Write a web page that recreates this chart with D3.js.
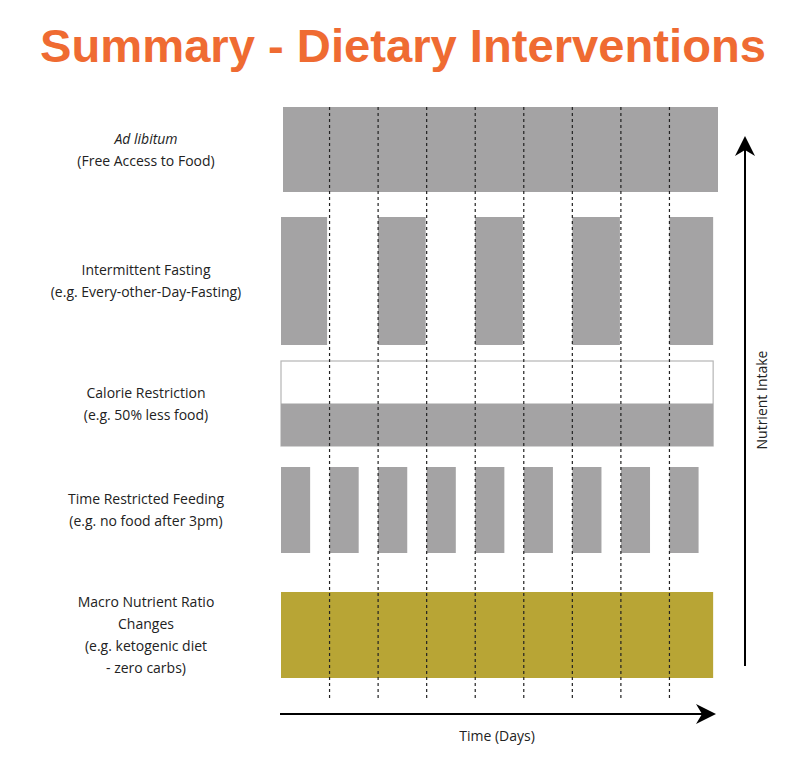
<!DOCTYPE html>
<html>
<head>
<meta charset="utf-8">
<script src="https://cdn.jsdelivr.net/npm/d3@7"></script>
<style>
  body { margin: 0; background: #fff; }
  text { font-family: "Open Sans", "DejaVu Sans", sans-serif; }
</style>
</head>
<body>
<svg id="chart" width="800" height="764"></svg>
<script>
// Row labels (two or more lines each)
var rowLabels = [
  ["Ad libitum", "(Free Access to Food)"],
  ["Intermittent Fasting", "(e.g. Every-other-Day-Fasting)"],
  ["Calorie Restriction", "(e.g. 50% less food)"],
  ["Time Restricted Feeding", "(e.g. no food after 3pm)"],
  ["Macro Nutrient Ratio", "Changes", "(e.g. ketogenic diet", "- zero carbs)"]
];
var days = 9;
// feeding periods per row: [startDay, endDay, intake fraction]
var adLib = [[0, 9, 1]];
var ifast = [[0, 0.95, 1], [2, 2.98, 1], [4, 4.98, 1], [6, 6.98, 1], [8, 8.9, 1]];
var calRes = [[0, 8.9, 0.5]];
var trf = [0, 1, 2, 3, 4, 5, 6, 7, 8].map(d => [d, d + 0.6, 1]);
var macro = [[0, 8.9, 1]];
var rowsData = [adLib, ifast, calRes, trf, macro];
var rowColors = ["#a4a3a4", "#a4a3a4", "#a4a3a4", "#a4a3a4", "#b8a535"];
var rowTops = [107, 217, 361, 467, 592];
var rowHeights = [85, 128, 85, 86, 86];

var svg = d3.select("#chart");
var x = d3.scaleLinear().domain([0, days]).range([281, 718]);

// title
svg.append("text")
  .attr("x", 40).attr("y", 62)
  .attr("textLength", 726).attr("lengthAdjust", "spacingAndGlyphs")
  .style("font-family", "'Liberation Sans', sans-serif")
  .style("font-weight", "bold").style("font-size", "46px")
  .attr("fill", "#ef6b32")
  .text("Summary - Dietary Interventions");

// bars
rowsData.forEach((row, i) => {
  var y = d3.scaleLinear().domain([0, 1]).range([rowTops[i] + rowHeights[i], rowTops[i]]);
  if (i == 2) {
    svg.append("rect")
      .attr("x", x(0)).attr("y", y(1))
      .attr("width", x(8.9) - x(0)).attr("height", y(0) - y(1))
      .attr("fill", "#fff").attr("stroke", "#b5b5b5").attr("stroke-width", 1.2);
  }
  svg.selectAll(null).data(row).enter().append("rect")
    .attr("x", d => x(d[0]) + (i == 0 ? 2 : 0))
    .attr("y", d => y(d[2]))
    .attr("width", d => x(d[1]) - x(d[0]) - (i == 0 ? 2 : 0))
    .attr("height", d => y(0) - y(d[2]))
    .attr("fill", rowColors[i]);

  var lines = rowLabels[i];
  var cy = rowTops[i] + rowHeights[i] / 2;
  var lh = 22;
  lines.forEach((t, j) => {
    svg.append("text")
      .attr("x", 146)
      .attr("y", cy + (j - (lines.length - 1) / 2) * lh + 5)
      .attr("text-anchor", "middle")
      .style("font-size", "14px")
      .style("font-style", (i == 0 && j == 0) ? "italic" : "normal")
      .attr("fill", "#222")
      .text(t);
  });
});

// dashed day boundaries
svg.selectAll(null).data(d3.range(1, days)).enter().append("line")
  .attr("x1", d => x(d)).attr("x2", d => x(d))
  .attr("y1", 107).attr("y2", 698)
  .attr("stroke", "#222").attr("stroke-width", 1.2)
  .attr("stroke-dasharray", "3,3");

// arrows
var defs = svg.append("defs");
defs.append("marker").attr("id", "arr")
  .attr("viewBox", "0 0 10 10").attr("refX", 9).attr("refY", 5)
  .attr("markerWidth", 10).attr("markerHeight", 10)
  .attr("markerUnits", "userSpaceOnUse")
  .attr("orient", "auto")
  .append("path").attr("d", "M0,0 L10,5 L0,10 L3,5 Z").attr("fill", "#000");
defs.select("marker").attr("markerWidth", 20).attr("markerHeight", 20)
  .attr("viewBox", "0 0 10 10");

svg.append("line").attr("x1", 280).attr("x2", 714).attr("y1", 714).attr("y2", 714)
  .attr("stroke", "#000").attr("stroke-width", 2).attr("marker-end", "url(#arr)");
svg.append("text").attr("x", 497).attr("y", 741).attr("text-anchor", "middle")
  .style("font-size", "14px").attr("fill", "#222").text("Time (Days)");

svg.append("line").attr("x1", 745).attr("x2", 745).attr("y1", 666).attr("y2", 138)
  .attr("stroke", "#000").attr("stroke-width", 2).attr("marker-end", "url(#arr)");
svg.append("text").attr("transform", "translate(767,400) rotate(-90)")
  .attr("text-anchor", "middle")
  .style("font-size", "14px").attr("fill", "#222").text("Nutrient Intake");
</script>
</body>
</html>
